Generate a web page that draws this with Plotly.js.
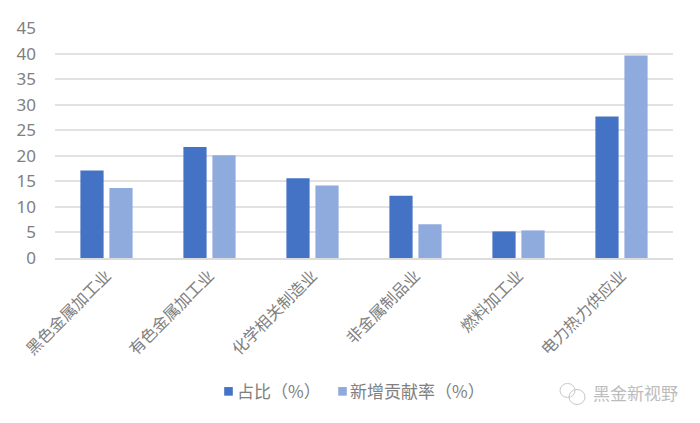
<!DOCTYPE html>
<html><head><meta charset="utf-8">
<script src="https://cdn.plot.ly/plotly-3.0.1.min.js"></script>
<style>html,body{margin:0;padding:0;background:#fff}</style></head>
<body><div id="chart" style="width:700px;height:423px"></div>
<script>
const categories = ['黑色金属加工业','有色金属加工业','化学相关制造业','非金属制品业','燃料加工业','电力热力供应业'];
const shareValues = [17.1,21.7,15.6,12.2,5.2,27.7];
const contributionValues = [13.7,20.1,14.2,6.6,5.4,39.6];
const seriesNames = ['占比（%）','新增贡献率（%）'];
const seriesColors = ['#4472c4','#8faadc'];
const tickValues = [0,5,10,15,20,25,30,35,40,45];
const font = '"Noto Sans CJK SC","Noto Sans",sans-serif';
const gray = '#808080';
const W=700,H=423,L=55,R=27,T=28,B=165.3;
const px=x=>(x-L)/(W-L-R), py=y=>(H-B-y)/(H-T-B);
const swatch=(x0,color)=>({type:'rect',xref:'paper',yref:'paper',x0:px(x0),x1:px(x0+8.6),y0:py(395.2),y1:py(386.6),fillcolor:color,line:{width:0}});
const legendText=(x,t)=>({xref:'paper',yref:'paper',x:px(x),xanchor:'left',y:py(390.5),yanchor:'middle',showarrow:false,text:t,font:{size:17,color:gray,family:font},borderpad:0});
const bubble=(x0,x1,y0,y1)=>({type:'circle',xref:'paper',yref:'paper',x0:px(x0),x1:px(x1),y0:py(y1),y1:py(y0),line:{color:'#c8c8c8',width:1}});
Plotly.newPlot('chart',[
 {type:'bar',name:seriesNames[0],x:categories,y:shareValues,marker:{color:seriesColors[0]}},
 {type:'bar',name:seriesNames[1],x:categories,y:contributionValues,marker:{color:seriesColors[1]}}
],{
 width:W,height:H,paper_bgcolor:'#fff',plot_bgcolor:'#fff',showlegend:false,
 margin:{l:L,r:R,t:T,b:B},
 barmode:'group',bargap:0.437,bargroupgap:0.2,
 font:{family:font,color:gray},
 xaxis:{type:'category',tickangle:-45,tickfont:{size:16,color:gray,family:font},showline:true,linecolor:'#dcdcdc',linewidth:2,ticks:'',showgrid:false},
 yaxis:{range:[0,45],tickvals:tickValues,tickfont:{size:17,color:gray,family:'"Noto Sans","Noto Sans CJK SC",sans-serif'},gridcolor:'#e2e2e2',gridwidth:2,zeroline:false,ticks:'',ticklabelstandoff:18,showline:false},
 annotations:[
  legendText(235.5,seriesNames[0]),legendText(349,seriesNames[1]),
  {xref:'paper',yref:'paper',x:px(680),xanchor:'right',y:py(392),yanchor:'middle',showarrow:false,text:'黑金新视野',font:{size:17,color:'#bcbcbc',family:font}}
 ],
 shapes:[swatch(224.2,seriesColors[0]),swatch(338.2,seriesColors[1]),bubble(560,575,383,397),bubble(569,585,389,404)]
},{displayModeBar:false,staticPlot:true});
</script></body></html>
